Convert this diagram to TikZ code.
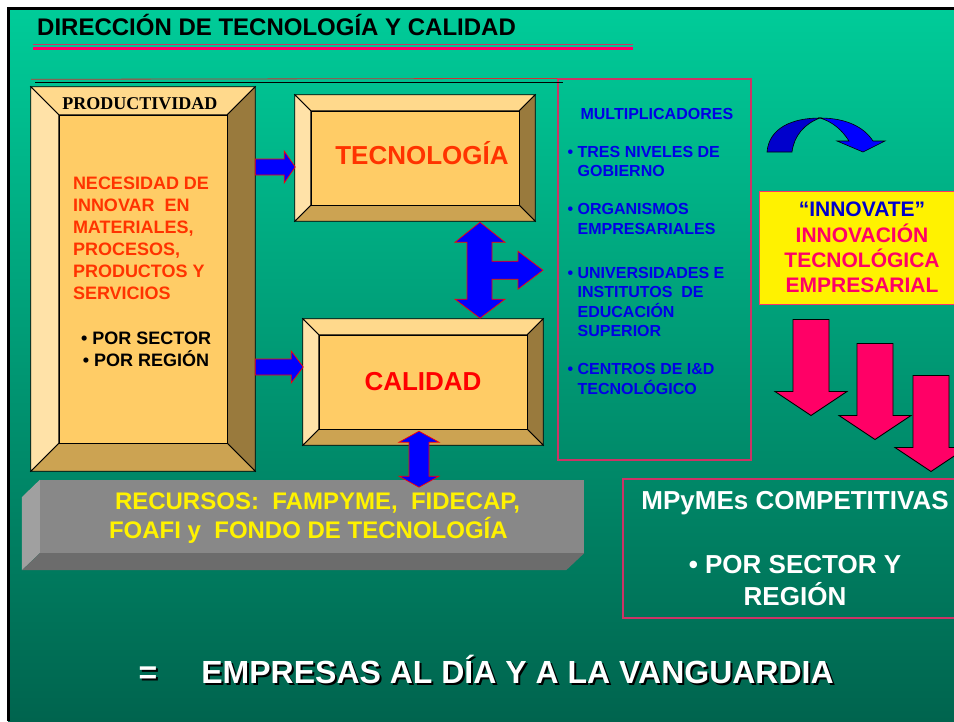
\documentclass[tikz,border=0pt]{standalone}
\usepackage{fontspec}
\setmainfont{Liberation Sans}
\newfontfamily\serifbold{Liberation Serif}
\usetikzlibrary{calc}

\definecolor{tealtop}{RGB}{0,204,153}
\definecolor{tealbottom}{RGB}{0,100,78}
\definecolor{facecol}{RGB}{255,204,102}
\definecolor{bevtopcol}{RGB}{255,217,140}
\definecolor{bevleftcol}{RGB}{255,226,168}
\definecolor{bevrightcol}{RGB}{153,122,61}
\definecolor{bevbotcol}{RGB}{204,163,82}
\definecolor{orangered}{RGB}{255,51,0}
\definecolor{pureblue}{RGB}{0,0,255}
\definecolor{darkblue}{RGB}{0,0,204}
\definecolor{listblue}{RGB}{0,0,230}
\definecolor{hotpink}{RGB}{255,0,102}
\definecolor{rosered}{RGB}{204,51,102}
\definecolor{brick}{RGB}{204,51,51}
\definecolor{innovedge}{RGB}{255,51,102}
\definecolor{bargray}{RGB}{136,136,136}
\definecolor{barlight}{RGB}{160,160,160}
\definecolor{bardark}{RGB}{108,108,108}

\tikzset{
  bevel/.style={draw=black, line width=0.8pt},
  boxface/.style={draw=black, line width=0.8pt, fill=facecol, inner sep=0pt},
  bluearrow/.style={fill=pureblue, draw=red, line width=0.7pt},
  pinkarrow/.style={fill=hotpink, draw=black, line width=0.9pt},
  headline/.style={inner sep=0pt, font=\fontsize{24}{28}\selectfont\bfseries},
  prodlabel/.style={inner sep=0pt, font=\serifbold\fontsize{18}{22}\selectfont\bfseries},
  redtext/.style={inner sep=0pt, text=orangered, align=left, font=\fontsize{18}{22}\selectfont\bfseries},
  blacklist/.style={inner sep=0pt, align=center, font=\fontsize{18}{21.5}\selectfont\bfseries},
  bigword/.style={inner sep=0pt, font=\fontsize{26}{30}\selectfont\bfseries},
  multtext/.style={inner sep=0pt, text=listblue, align=left, font=\fontsize{16}{19.5}\selectfont\bfseries},
  innovbox/.style={draw=innovedge, line width=1pt, fill=yellow, text=hotpink, align=center,
    minimum width=206, minimum height=113, inner sep=0pt, font=\fontsize{21}{25.3}\selectfont\bfseries},
  framebox/.style={draw=rosered, line width=1.2pt, inner sep=0pt},
  bartext/.style={inner sep=0pt, text=yellow, align=left, font=\fontsize{24}{29}\selectfont\bfseries},
  whitetext/.style={text=white, align=center, font=\fontsize{26}{31.7}\selectfont\bfseries},
  slogan/.style={inner sep=0pt, text=white, font=\fontsize{32}{38}\selectfont\bfseries},
}

% framed box with four bevels: name, centre, width, height, bevel
\newcommand{\bevelbox}[5]{%
  \node[minimum width=#3, minimum height=#4, inner sep=0pt] (#1) at #2 {};
  \filldraw[bevel, fill=bevtopcol] (#1.north west) -- (#1.north east) -- ++(-#5,#5) -- ($(#1.north west)+(#5,#5)$) -- cycle;
  \filldraw[bevel, fill=bevrightcol] (#1.north east) -- (#1.south east) -- ++(-#5,-#5) -- ($(#1.north east)+(-#5,#5)$) -- cycle;
  \filldraw[bevel, fill=bevbotcol] (#1.south east) -- (#1.south west) -- ++(#5,-#5) -- ($(#1.south east)+(-#5,-#5)$) -- cycle;
  \filldraw[bevel, fill=bevleftcol] (#1.south west) -- (#1.north west) -- ++(#5,#5) -- ($(#1.south west)+(#5,-#5)$) -- cycle;
  \node[boxface, minimum width={#3-2*#5}, minimum height={#4-2*#5}] (#1-face) at (#1) {};
}
% block arrows
\newcommand{\rightblock}[3]{%
  \filldraw[bluearrow] #1 ++(0,-8) -- ++(#2,0) -- ++(0,-8) -- ++(#3,16) -- ++(-#3,16) -- ++(0,-8) -- ++(-#2,0) -- cycle;}
\newcommand{\downblock}[1]{%
  \filldraw[pinkarrow] #1 ++(-18,0) -- ++(36,0) -- ++(0,72) -- ++(18,0) -- ++(-36,24) -- ++(-36,-24) -- ++(18,0) -- cycle;}
% text with a dark drop shadow
\newcommand{\shadowed}[1]{\makebox[0pt][l]{\raisebox{-2pt}{\hspace*{2pt}\textcolor{black}{#1}}}#1}

\begin{document}
\begin{tikzpicture}[x=1pt, y=-1pt]

      \useasboundingbox (0,0) rectangle (954,721);
      \fill[white] (0,0) rectangle (954,721);
      \shade[top color=tealtop, bottom color=tealbottom] (8,8) rectangle (954,721);
      \draw[line width=3pt] (8.5,721) -- (8.5,8.5) -- (954,8.5);

      % title
      \node[headline, anchor=base west] (title) at (37,35.6) {DIRECCIÓN DE TECNOLOGÍA Y CALIDAD};
      \draw[rosered, line width=1.5pt] (33,44.3) -- (633,44.3);
      \draw[hotpink, line width=3.5pt] (33,48.3) -- (633,48.3);

      % multiplicadores
      \node[framebox, minimum width=193, minimum height=381] (mult) at (654.5,269.5) {};
      \draw[brick, line width=0.8pt] (31,79.3) -- (mult.north west);
      \draw[line width=0.9pt] (35,82.7) -- (563,82.7);
      \node[multtext, anchor=base west] (multtitle) at ($(mult.north west)+(23,40.7)$) {MULTIPLICADORES};
      \node[multtext, anchor=north west] (multlist) at ($(mult.north west)+(10,67.3)$)
        {\textbullet\ TRES NIVELES DE\\\phantom{\textbullet\ }GOBIERNO\\[18.5pt]
         \textbullet\ ORGANISMOS\\\phantom{\textbullet\ }EMPRESARIALES\\[24.5pt]
         \textbullet\ UNIVERSIDADES E\\\phantom{\textbullet\ }INSTITUTOS\ \ DE\\\phantom{\textbullet\ }EDUCACIÓN\\\phantom{\textbullet\ }SUPERIOR\\[18.5pt]
         \textbullet\ CENTROS DE I\&D\\\phantom{\textbullet\ }TECNOLÓGICO};

      % beveled boxes
      \bevelbox{prod}{(143,279)}{224}{384}{28}
      \bevelbox{tec}{(415,158)}{240}{126}{16}
      \bevelbox{cal}{(423,382)}{240}{126}{16}

      \node[prodlabel] (prodtitle) at ($(prod.north)+(-3,17)$) {PRODUCTIVIDAD};
      \node[redtext, anchor=north west] (need) at ($(prod.north west)+(42,89.5)$)
        {NECESIDAD DE\\INNOVAR\ \ EN\\MATERIALES,\\PROCESOS,\\PRODUCTOS Y\\SERVICIOS};
      \node[blacklist] (scope) at ($(prod)+(3,70.5)$) {\textbullet\ POR SECTOR\\\textbullet\ POR REGIÓN};
      \node[bigword, text=orangered, anchor=base] (tectext) at ($(tec)+(7,6.3)$) {TECNOLOGÍA};
      \node[bigword, text=red] (caltext) at (cal) {CALIDAD};

      % recursos bar
      \node[fill=bargray, minimum width=544, minimum height=73, inner sep=0pt] (recursos) at (312,516.5) {};
      \fill[barlight] (recursos.north west) -- (recursos.south west) -- ++(-18,17) -- ++(0,-73) -- cycle;
      \fill[bardark] (recursos.south west) -- (recursos.south east) -- ++(-18,17) -- ++(-544,0) -- cycle;
      \node[bartext, anchor=north west] (recursostext) at ($(recursos.north west)+(69,12.4)$)
        {\hspace*{6pt}RECURSOS:\ \ FAMPYME,\ \ FIDECAP,\\FOAFI y\ \ FONDO DE TECNOLOGÍA};

      % blue arrows
      \rightblock{($(prod.east)+(0,-112)$)}{29}{11}
      \rightblock{($(prod.east)+(0,88)$)}{36}{12}
      \filldraw[bluearrow] ($(tec.south)+(65,1)$) -- ++(25,20) -- ++(-13,0) -- ++(0,19) -- ++(26,0)
        -- ++(0,-10) -- ++(25,19) -- ++(-25,19) -- ++(0,-10) -- ++(-26,0) -- ++(0,20) -- ++(13,0)
        -- ++(-25,19) -- ++(-25,-19) -- ++(12,0) -- ++(0,-57) -- ++(-12,0) -- cycle;
      \filldraw[bluearrow] ($(cal.south)+(-4,-14)$) -- ++(20,11) -- ++(-10,0) -- ++(0,34) -- ++(10,0)
        -- ++(-20,11) -- ++(-20,-11) -- ++(10,0) -- ++(0,-34) -- ++(-10,0) -- cycle;

      % innovate
      \node[innovbox] (innov) at (862,247.5)
        {\textcolor{darkblue}{“INNOVATE”}\\INNOVACIÓN\\TECNOLÓGICA\\EMPRESARIAL};
      \filldraw[fill=darkblue, draw=black, line width=0.6pt] (767,152) .. controls (769,128) and (792,118) .. (820,118)
        .. controls (804,124) and (794,136) .. (792,152) -- cycle;
      \filldraw[fill=pureblue, draw=black, line width=0.6pt] (820,118) .. controls (846,118) and (864,127) .. (873,141)
        -- (885,141) -- (863,152) -- (837,141) -- (849,141) .. controls (842,130) and (833,122) .. (820,118) -- cycle;
      \downblock{($(innov.south)+(-51,15)$)}
      \downblock{($(innov.south)+(13,39)$)}
      \downblock{($(innov.south)+(69,71)$)}

      % result
      \node[framebox, whitetext, minimum width=344, minimum height=139] (mpyme) at (795,548.5)
        {MPyMEs COMPETITIVAS\\[32pt]\textbullet\ POR SECTOR Y\\REGIÓN};
      \node[slogan, anchor=base west] (slogan) at (138.5,683.5)
        {\shadowed{=\hspace{44pt}EMPRESAS AL DÍA Y A LA VANGUARDIA}};

\end{tikzpicture}
\end{document}
